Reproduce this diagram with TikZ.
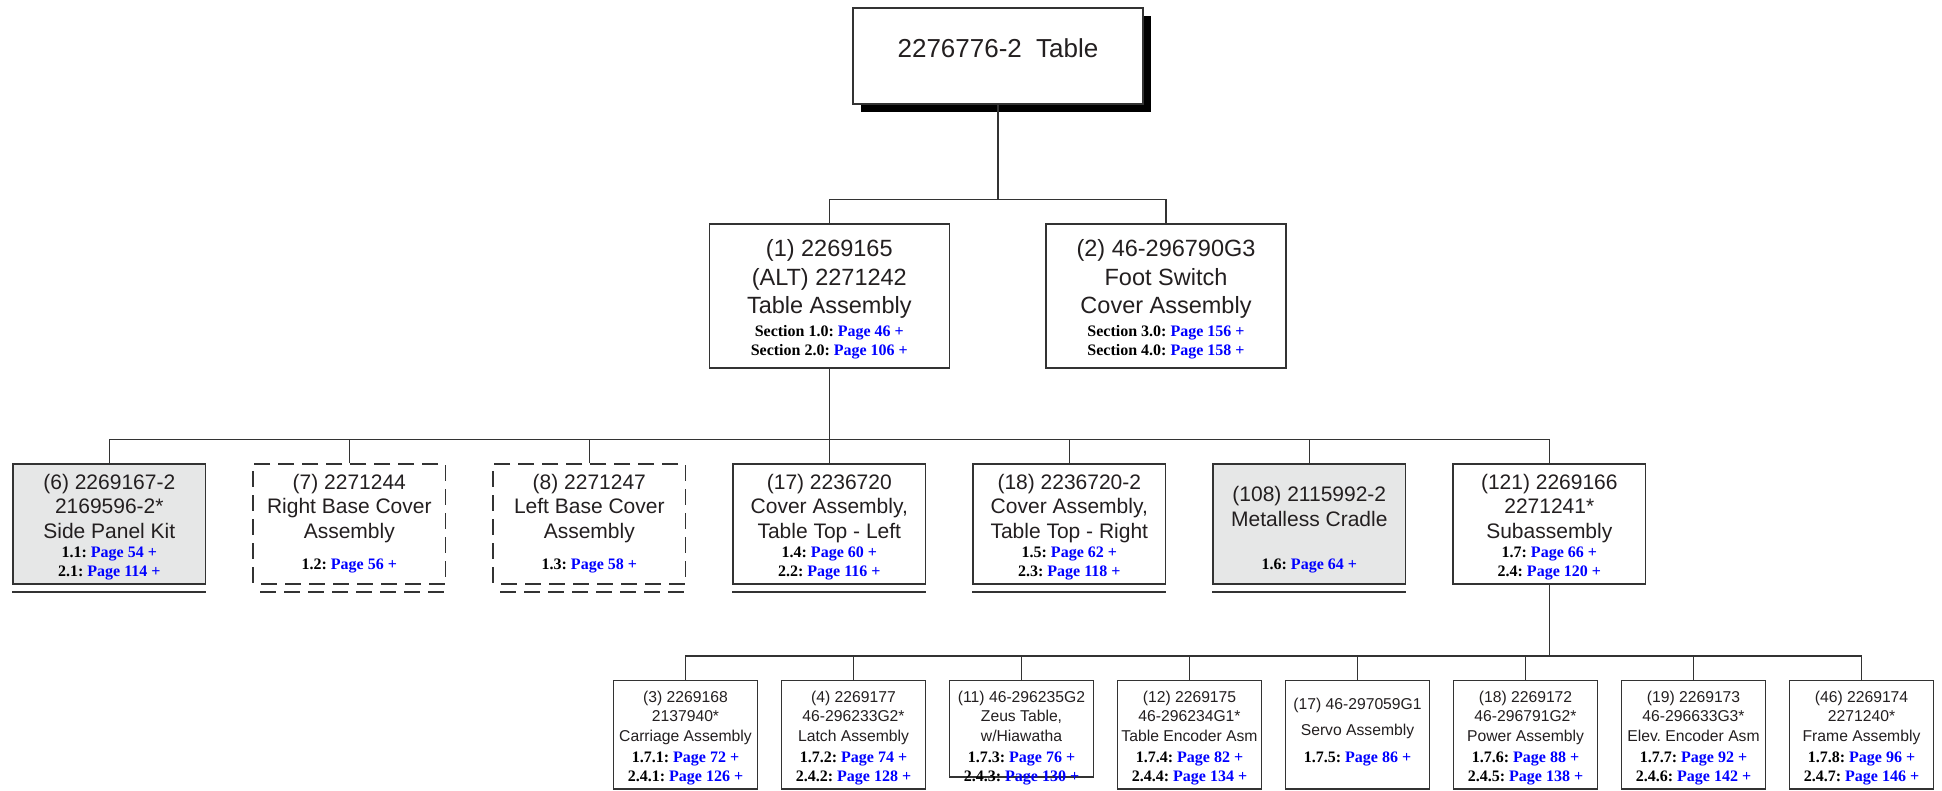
\documentclass[tikz,border=0pt]{standalone}
\usepackage{fontspec}
\setmainfont{Liberation Sans}
\newfontfamily\reffont{Liberation Serif}
\usetikzlibrary{positioning,shadows}
\frenchspacing

\definecolor{inkgray}{HTML}{231F20}
\definecolor{linegray}{HTML}{333333}
\definecolor{panelgray}{HTML}{E6E7E7}
\definecolor{refblue}{HTML}{0000FF}

\newcommand{\pref}[2]{{\reffont\bfseries\fontsize{16}{19}\selectfont\color{black}#1: \textcolor{refblue}{Page #2 +}}}

\tikzset{
  part/.style={draw=linegray, line width=1.6pt, fill=white, inner sep=0pt, anchor=north},
  lvone/.style={part, minimum width=240pt, minimum height=144pt},
  lvtwo/.style={part, minimum width=192.5pt, minimum height=120pt},
  lvthree/.style={part, minimum width=144pt, minimum height=108.5pt},
  shaded/.style={fill=panelgray},
  dashbox/.style={dash pattern=on 16pt off 8pt, dash phase=16pt},
  onetext/.style={align=center, inner sep=0pt, text=inkgray, font=\fontsize{23.5}{28.5}\selectfont},
  twotext/.style={onetext, font=\fontsize{21}{24.6}\selectfont},
  threetext/.style={onetext, font=\fontsize{15.7}{19.3}\selectfont},
  wire/.style={draw=linegray, line width=1.3pt},
  floorline/.style={draw=linegray, line width=1.8pt},
}

\begin{document}
\begin{tikzpicture}[x=1pt, y=-1pt]
\useasboundingbox (0,0) rectangle (1942,791);
\coordinate (busone) at (0,199.3);
\coordinate (bustwo) at (0,439.5);
\coordinate (busthree) at (0,656);

\node[part, minimum width=290pt, minimum height=96pt,
  drop shadow={shadow xshift=8pt, shadow yshift=-8pt, opacity=1, fill=black}] (tbl) at (998,7) {};
\node[onetext, font=\fontsize{26}{30}\selectfont, below=31.6pt of tbl.north] (tblt) {2276776-2\hspace{.55em}Table};

\node[lvone] (asm1) at (829.3,223.3) {};
\node[onetext, below=16pt of asm1.north] (asm1t) {(1) 2269165\\(ALT) 2271242\\Table Assembly\\[-5.5pt]\pref{Section 1.0}{46}\\[-9.5pt]\pref{Section 2.0}{106}};
\node[lvone] (asm2) at (1166,223.3) {};
\node[onetext, below=16pt of asm2.north] (asm2t) {(2) 46-296790G3\\Foot Switch\\Cover Assembly\\[-5.5pt]\pref{Section 3.0}{156}\\[-9.5pt]\pref{Section 4.0}{158}};

\node[lvtwo, shaded] (p6) at (109.3,463.3) {};
\node[twotext, below=10.5pt of p6.north] (p6t) {(6) 2269167-2\\2169596-2*\\Side Panel Kit\\[-5.7pt]\pref{1.1}{54}\\[-5.7pt]\pref{2.1}{114}};
\node[lvtwo, dashbox] (p7) at (349.3,463.3) {};
\node[twotext, below=10.5pt of p7.north] (p7t) {(7) 2271244\\Right Base Cover\\Assembly\\[6.4pt]\pref{1.2}{56}};
\node[lvtwo, dashbox] (p8) at (589.3,463.3) {};
\node[twotext, below=10.5pt of p8.north] (p8t) {(8) 2271247\\Left Base Cover\\Assembly\\[6.4pt]\pref{1.3}{58}};
\node[lvtwo] (p17) at (829.3,463.3) {};
\node[twotext, below=10.5pt of p17.north] (p17t) {(17) 2236720\\Cover Assembly,\\Table Top - Left\\[-5.7pt]\pref{1.4}{60}\\[-5.7pt]\pref{2.2}{116}};
\node[lvtwo] (p18) at (1069.3,463.3) {};
\node[twotext, below=10.5pt of p18.north] (p18t) {(18) 2236720-2\\Cover Assembly,\\Table Top - Right\\[-5.7pt]\pref{1.5}{62}\\[-5.7pt]\pref{2.3}{118}};
\node[lvtwo, shaded] (p108) at (1309.3,463.3) {};
\node[twotext, below=22.8pt of p108.north] (p108t) {(108) 2115992-2\\Metalless Cradle\\[18.7pt]\pref{1.6}{64}};
\node[lvtwo] (p121) at (1549.3,463.3) {};
\node[twotext, below=10.5pt of p121.north] (p121t) {(121) 2269166\\2271241*\\Subassembly\\[-5.7pt]\pref{1.7}{66}\\[-5.7pt]\pref{2.4}{120}};

\node[lvthree] (s3) at (685.5,679.5) {};
\node[threetext, below=11.6pt of s3.north] (s3t) {(3) 2269168\\2137940*\\Carriage Assembly\\[1.7pt]\pref{1.7.1}{72}\\\pref{2.4.1}{126}};
\node[lvthree] (s4) at (853.5,679.5) {};
\node[threetext, below=11.6pt of s4.north] (s4t) {(4) 2269177\\46-296233G2*\\Latch Assembly\\[1.7pt]\pref{1.7.2}{74}\\\pref{2.4.2}{128}};
\node[lvthree, minimum height=96.5pt] (s11) at (1021.5,679.5) {};
\node[threetext, below=11.6pt of s11.north] (s11t) {(11) 46-296235G2\\Zeus Table,\\w/Hiawatha\\[1.7pt]\pref{1.7.3}{76}\\\pref{2.4.3}{130}};
\node[lvthree] (s12) at (1189.5,679.5) {};
\node[threetext, below=11.6pt of s12.north] (s12t) {(12) 2269175\\46-296234G1*\\Table Encoder Asm\\[1.7pt]\pref{1.7.4}{82}\\\pref{2.4.4}{134}};
\node[lvthree] (s17) at (1357.5,679.5) {};
\node[threetext, below=18pt of s17.north] (s17t) {(17) 46-297059G1\\[6.7pt]Servo Assembly\\[8pt]\pref{1.7.5}{86}};
\node[lvthree] (s18) at (1525.5,679.5) {};
\node[threetext, below=11.6pt of s18.north] (s18t) {(18) 2269172\\46-296791G2*\\Power Assembly\\[1.7pt]\pref{1.7.6}{88}\\\pref{2.4.5}{138}};
\node[lvthree] (s19) at (1693.5,679.5) {};
\node[threetext, below=11.6pt of s19.north] (s19t) {(19) 2269173\\46-296633G3*\\Elev. Encoder Asm\\[1.7pt]\pref{1.7.7}{92}\\\pref{2.4.6}{142}};
\node[lvthree] (s46) at (1861.5,679.5) {};
\node[threetext, below=11.6pt of s46.north] (s46t) {(46) 2269174\\2271240*\\Frame Assembly\\[1.7pt]\pref{1.7.8}{96}\\\pref{2.4.7}{146}};

\draw[wire] (tbl.south) -- (tbl.south |- busone);
\draw[wire] (asm1.north) |- (asm2.north |- busone) -- (asm2.north);

\draw[wire] (asm1.south) -- (asm1.south |- bustwo);
\draw[wire] (p6.north) |- (p121.north |- bustwo) -- (p121.north);
\foreach \b in {p7,p8,p17,p18,p108}
  \draw[wire] (\b.north) -- (\b.north |- bustwo);

\draw[wire] (p121.south) -- (p121.south |- busthree);
\draw[wire] (s3.north) |- (s46.north |- busthree) -- (s46.north);
\foreach \b in {s4,s11,s12,s17,s18,s19}
  \draw[wire] (\b.north) -- (\b.north |- busthree);

\foreach \b in {p6,p17,p18,p108}
  \draw[floorline] ([yshift=-7pt]\b.south west) -- ([yshift=-7pt]\b.south east);
\foreach \b in {p7,p8}
  \draw[floorline, dashbox] ([yshift=-7pt]\b.south west) -- ([yshift=-7pt]\b.south east);
\end{tikzpicture}
\end{document}
